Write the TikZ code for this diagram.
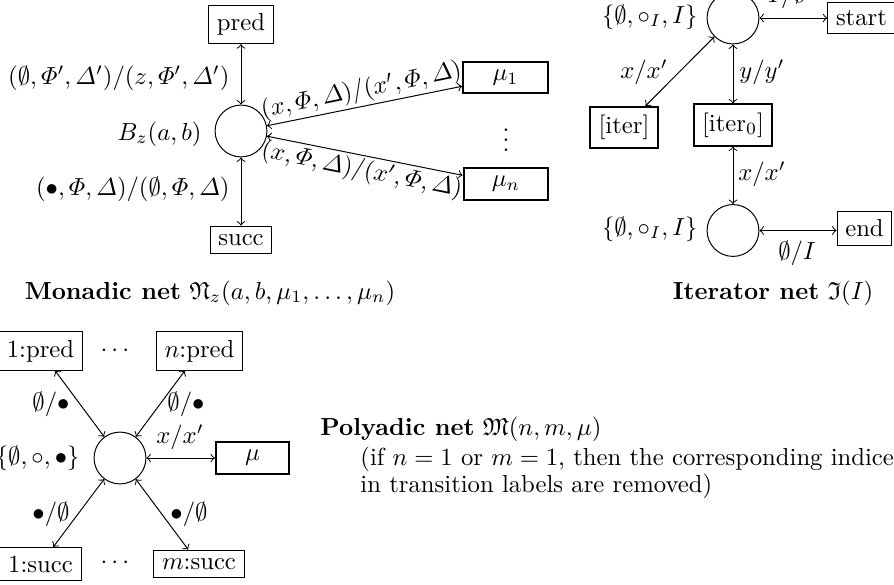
\documentclass[tikz,border=0pt]{standalone}
\usepackage{amsmath,amssymb}
\begin{document}
\begin{tikzpicture}[x=0.405pt,y=-0.405pt,>=to,
  place/.style={circle,draw,minimum size=21pt,inner sep=0pt},
  bx/.style={draw,rectangle},
  tbx/.style={draw,rectangle,thick},
  lbl/.style={inner sep=0pt},
  arr/.style={<->}]
\useasboundingbox (0,0) rectangle (894,585);
\clip (0,0) rectangle (894,585);
% ---------- Monadic net ----------
\node[bx] (pred) at (241,24.5) {pred};
\node[place] (B) at (241,131) {};
\node[bx] (succ) at (241,240) {succ};
\node[tbx,minimum width=34.4pt] (mu1) at (505.5,77.5) {$\mu_1$};
\node[tbx,minimum width=34.4pt] (mun) at (506,184) {$\mu_n$};
\node (vd) at (506,133) {$\vdots$};
\node[lbl,anchor=east] (lB) at (202,134) {$B_z(a,b)$};
\node[lbl,anchor=east] (l1) at (230,78) {$(\emptyset,\varPhi',\varDelta')/(z,\varPhi',\varDelta')$};
\node[lbl,anchor=east] (l2) at (230,189) {$(\bullet,\varPhi,\varDelta)/(\emptyset,\varPhi,\varDelta)$};
\draw[arr] (pred) -- (B);
\draw[arr] (succ) -- (B);
\draw[arr] (B) -- node[sloped,above,inner sep=1pt] (l3) {$(x,\varPhi,\varDelta)/(x',\varPhi,\varDelta)$} (mu1);
\draw[arr] (B) -- node[sloped,below,inner sep=1pt] (l4) {$(x,\varPhi,\varDelta)/(x',\varPhi,\varDelta)$} (mun);
\node[lbl,anchor=base] (t1) at (210,299) {\textbf{Monadic net} $\mathfrak{N}_z(a,b,\mu_1,\dots,\mu_n)$};
% ---------- Iterator net ----------
\node[place] (c1) at (733,18) {};
\node[bx] (start) at (861.5,18) {start};
\node[tbx] (it) at (624,127.5) {[iter]};
\node[tbx] (it0) at (733,125) {[iter$_0$]};
\node[place] (c2) at (733,230.5) {};
\node[bx] (end) at (864.5,228.5) {end};
\draw[arr] (c1) -- (start);
\draw[arr] (c1) -- (it);
\draw[arr] (c1) -- (it0);
\draw[arr] (it0) -- (c2);
\draw[arr] (c2) -- (c2 -| end.west);
\node[lbl] (i1) at (644,72) {$x/x'$};
\node[lbl] (i2) at (762,72) {$y/y'$};
\node[lbl] (i3) at (762,174) {$x/x'$};
\node[lbl,anchor=east] (i4) at (698,17) {$\{\emptyset,\circ_I,I\}$};
\node[lbl,anchor=east] (i5) at (698,229) {$\{\emptyset,\circ_I,I\}$};
\node[lbl] (i6) at (787,-4) {$I/\emptyset$};
\node[lbl] (i7) at (797,253) {$\emptyset/I$};
\node[lbl,anchor=base] (t2) at (773,299) {\textbf{Iterator net} $\mathfrak{I}(I)$};
% ---------- Polyadic net ----------
\node[place] (c3) at (120,458) {};
\node[bx] (p1) at (40.5,351) {1:pred};
\node[bx] (pn) at (199.5,351) {$n$:pred};
\node[bx] (s1) at (40.5,564) {1:succ};
\node[bx] (sm) at (199,564) {$m$:succ};
\node[tbx,minimum width=29.6pt] (mu) at (252.5,458) {$\mu$};
\node (d1) at (117,351) {$\cdots$};
\node (d2) at (117,563) {$\cdots$};
\draw[arr] (c3) -- (p1);
\draw[arr] (c3) -- (pn);
\draw[arr] (c3) -- (s1);
\draw[arr] (c3) -- (sm);
\draw[arr] (c3) -- (mu);
\node[lbl] (q1) at (51,404) {$\emptyset/\bullet$};
\node[lbl] (q2) at (186,404) {$\emptyset/\bullet$};
\node[lbl] (q3) at (51,514) {$\bullet/\emptyset$};
\node[lbl] (q4) at (189,514) {$\bullet/\emptyset$};
\node[lbl] (q5) at (180,437) {$x/x'$};
\node[lbl,anchor=east] (q6) at (80,458) {$\{\emptyset,\circ,\bullet\}$};
\node[lbl,anchor=base west] (t3) at (320,435) {\textbf{Polyadic net} $\mathfrak{M}(n,m,\mu)$};
\node[lbl,anchor=base west] (t4) at (360,465) {(if $n=1$ or $m=1$, then the corresponding indices};
\node[lbl,anchor=base west] (t5) at (360,492) {in transition labels are removed)};
\end{tikzpicture}
\end{document}
